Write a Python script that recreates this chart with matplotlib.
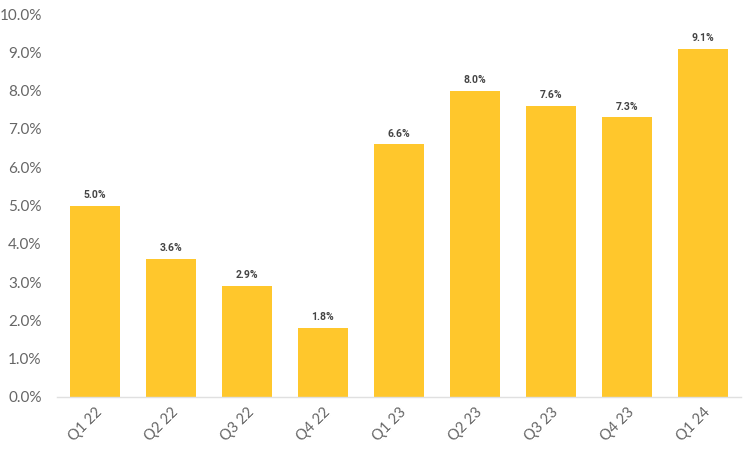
import matplotlib.pyplot as plt
import numpy as np

quarters = ['Q1 22', 'Q2 22', 'Q3 22', 'Q4 22', 'Q1 23', 'Q2 23', 'Q3 23', 'Q4 23', 'Q1 24']
values = [5.0, 3.6, 2.9, 1.8, 6.6, 8.0, 7.6, 7.3, 9.1]
yticks = np.arange(0, 11, 1)

plt.rcParams['font.family'] = ['Lato', 'DejaVu Sans']

fig = plt.figure(figsize=(7.5, 4.55), dpi=100)
ax = fig.add_axes([0.076, 0.1275, 0.912, 0.8415])

x = np.arange(len(quarters))
ax.bar(x, values, width=0.66, color='#FFC72C', zorder=2)

# value labels above bars
for xi, v in zip(x, values):
    ax.text(xi, v + 0.15, f'{v:.1f}%', ha='center', va='bottom',
            fontsize=7.5, fontweight='bold', family=['Roboto', 'DejaVu Sans'],
            color='#444444')

ax.set_xlim(-0.5, len(quarters) - 0.5)
ax.set_ylim(0, 10)
ax.set_yticks(yticks)
ax.set_yticklabels([f'{t:.1f}%' for t in yticks], fontsize=11, color='#666666')
ax.set_xticks(x)
ax.set_xticklabels(quarters, rotation=45, ha='right', rotation_mode='anchor',
                   fontsize=10.5, color='#666666')

for s in ['top', 'right', 'left']:
    ax.spines[s].set_visible(False)
ax.spines['bottom'].set_color('#E0E0E0')
ax.spines['bottom'].set_linewidth(1)
ax.tick_params(axis='both', length=0)
ax.tick_params(axis='y', pad=11)
ax.tick_params(axis='x', pad=6)

fig.savefig('out.png', dpi=100)
